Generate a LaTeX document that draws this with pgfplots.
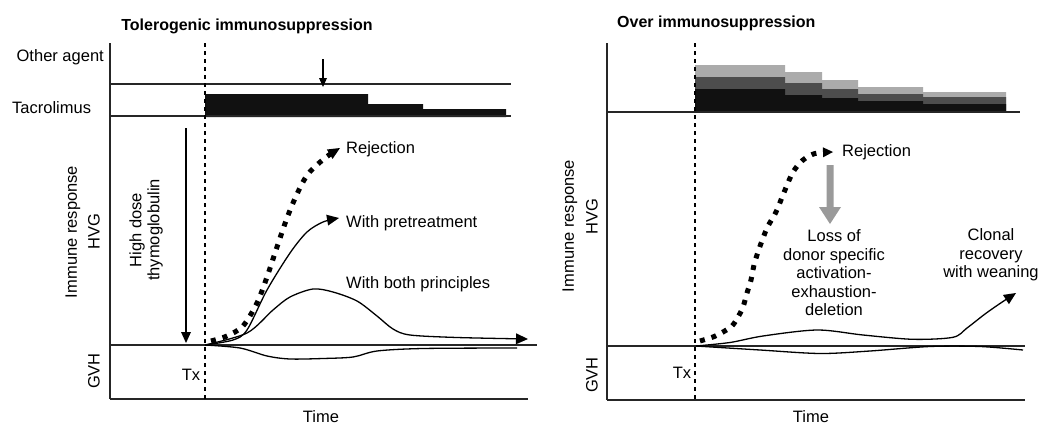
\documentclass[border=0pt]{standalone}
\usepackage{fontspec}
\setmainfont{Liberation Sans}
\usepackage{pgfplots}
\pgfplotsset{compat=1.18}
\usetikzlibrary{arrows.meta}
\newcommand\bodyfont{\fontsize{16.5}{18.5}\selectfont}
\newcommand\titlefont{\fontsize{16}{18}\selectfont\bfseries}
\definecolor{lightbar}{HTML}{ABABAB}
\definecolor{darkbar}{HTML}{4D4D4D}
\definecolor{blackbar}{HTML}{111111}
\definecolor{grayarrow}{HTML}{9A9A9A}
\begin{document}
\begin{tikzpicture}[every node/.style={inner sep=0pt, font=\bodyfont}]
\begin{axis}[
  x=1pt, y=1pt, xmin=0, xmax=1050, ymin=0, ymax=431, y dir=reverse,
  hide axis, clip=false, scale only axis,
  frame/.style={line width=1.3pt, black!85},
  curve/.style={line width=1.3pt, black, smooth},
  dashv/.style={line width=1.2pt, black, dash pattern=on 4pt off 4pt},
  dots/.style={line width=5pt, black, dash pattern=on 5pt off 7pt, smooth},
  tip/.style={-{Triangle[length=12pt,width=11pt,line width=0pt]}},
]
\path (axis cs:0,0) rectangle (axis cs:1050,431);

% ---------------- LEFT PANEL ----------------
% Tacrolimus bar
\addplot[fill=blackbar, draw=none] coordinates {
 (205,117) (205,94) (368,94) (368,104) (423,104) (423,109) (506,109) (506,117) (205,117)};
% frame lines
\addplot[frame] coordinates {(110,43) (110,399)};
\addplot[frame] coordinates {(110,84) (511,84)};
\addplot[frame] coordinates {(110,116) (511,116)};
\addplot[frame] coordinates {(110,345) (537,345)};
\addplot[frame] coordinates {(110,399) (528,399)};
\addplot[dashv] coordinates {(205,43) (205,399)};
% other agent arrow
\addplot[line width=1.2pt, -{Triangle[length=9pt,width=8pt,line width=0pt]}] coordinates {(323,59) (323,87)};
% thymoglobulin arrow
\addplot[line width=1.2pt, -{Triangle[length=11pt,width=10pt,line width=0pt]}] coordinates {(186,128) (186,343)};
% GVH curve
\addplot[curve] coordinates {(205,345) (240,348) (267,356) (290,359) (323,358.5) (353,357) (377,351) (423,348.5) (517,348)};
% with both principles
\addplot[curve, tip] coordinates {(205,345) (247,333) (273,310) (290,297) (313,289) (333,292) (357,301) (377,316) (393,329) (410,335) (457,337.5) (528,339)};
% with pretreatment
\addplot[curve, tip] coordinates {(205,345) (233,340) (247,330) (267,290) (290,253) (307,232) (323,222) (339,218)};
% rejection dotted
\addplot[dots, tip] coordinates {(211,341) (227,336) (243,326) (257,303) (267,277) (277,247) (287,218) (297,194) (308,174) (325,158) (340,148)};

% labels left
\node[font=\titlefont] at (247,26) {Tolerogenic immunosuppression};
\node[anchor=east] at (104,57) {Other agent};
\node[anchor=west] at (12,108) {Tacrolimus};
\node[rotate=90] at (73,232) {Immune response};
\node[rotate=90] at (94,232) {HVG};
\node[rotate=90] at (94,371) {GVH};
\node[rotate=90] at (137,230) {High dose};
\node[rotate=90] at (155,230) {thymoglobulin};
\node at (191,375) {Tx};
\node at (321,417) {Time};
\node[anchor=west] at (346,149) {Rejection};
\node[anchor=west] at (346,223) {With pretreatment};
\node[anchor=west] at (346,284) {With both principles};

% ---------------- RIGHT PANEL ----------------
% stacked drug bars
\addplot[fill=lightbar, draw=none] coordinates {
 (695,112) (695,65) (785,65) (785,72) (822,72) (822,80) (858,80) (858,87) (923,87) (923,92) (1006,92) (1006,112) (695,112)};
\addplot[fill=darkbar, draw=none] coordinates {
 (695,112) (695,77) (785,77) (785,83) (822,83) (822,89) (858,89) (858,94) (923,94) (923,97) (1006,97) (1006,112) (695,112)};
\addplot[fill=blackbar, draw=none] coordinates {
 (695,112) (695,89) (785,89) (785,95) (822,95) (822,98) (858,98) (858,101) (923,101) (923,104) (1006,104) (1006,112) (695,112)};
% frame lines
\addplot[frame] coordinates {(607,43) (607,400)};
\addplot[frame] coordinates {(607,112) (1020,112)};
\addplot[frame] coordinates {(607,346) (1025,346)};
\addplot[frame] coordinates {(607,400) (1025,400)};
\addplot[dashv] coordinates {(695,43) (695,400)};
% GVH curve
\addplot[curve] coordinates {(696,346) (760,350) (820,353.5) (870,351) (930,346.5) (980,346.5) (1023,350)};
% upper curve with weaning
\addplot[curve, tip] coordinates {(696,346) (730,342.5) (763,336) (817,330) (863,335) (913,339.3) (953,337.3) (967,328) (985,314) (1000,303.5) (1016,293)};
% rejection dotted
\addplot[dots, -{Triangle[length=10pt,width=10pt,line width=0pt]}] coordinates {(700,341) (713,337) (723,332) (732,326) (738,317) (743,307) (747,293) (751,280) (754,265) (758,252) (763,238) (768,226) (776,212) (785,190) (793,172) (803,160) (815,153.5) (833,152)};
% gray arrow
\addplot[fill=grayarrow, draw=none] coordinates {
 (826.5,165) (833.5,165) (833.5,207) (841,207) (830,224) (819,207) (826.5,207) (826.5,165)};

% labels right
\node[font=\titlefont, anchor=west] at (617,23) {Over immunosuppression};
\node[rotate=90] at (570,226) {Immune response};
\node[rotate=90] at (592,217) {HVG};
\node[rotate=90] at (592,375) {GVH};
\node at (682,373) {Tx};
\node at (811,417) {Time};
\node[anchor=west] at (842,152) {Rejection};
\node[align=center] at (834,273) {Loss of\\donor specific\\activation-\\exhaustion-\\deletion};
\node[align=center] at (991,255) {Clonal\\recovery\\with weaning};
\end{axis}
\end{tikzpicture}
\end{document}
